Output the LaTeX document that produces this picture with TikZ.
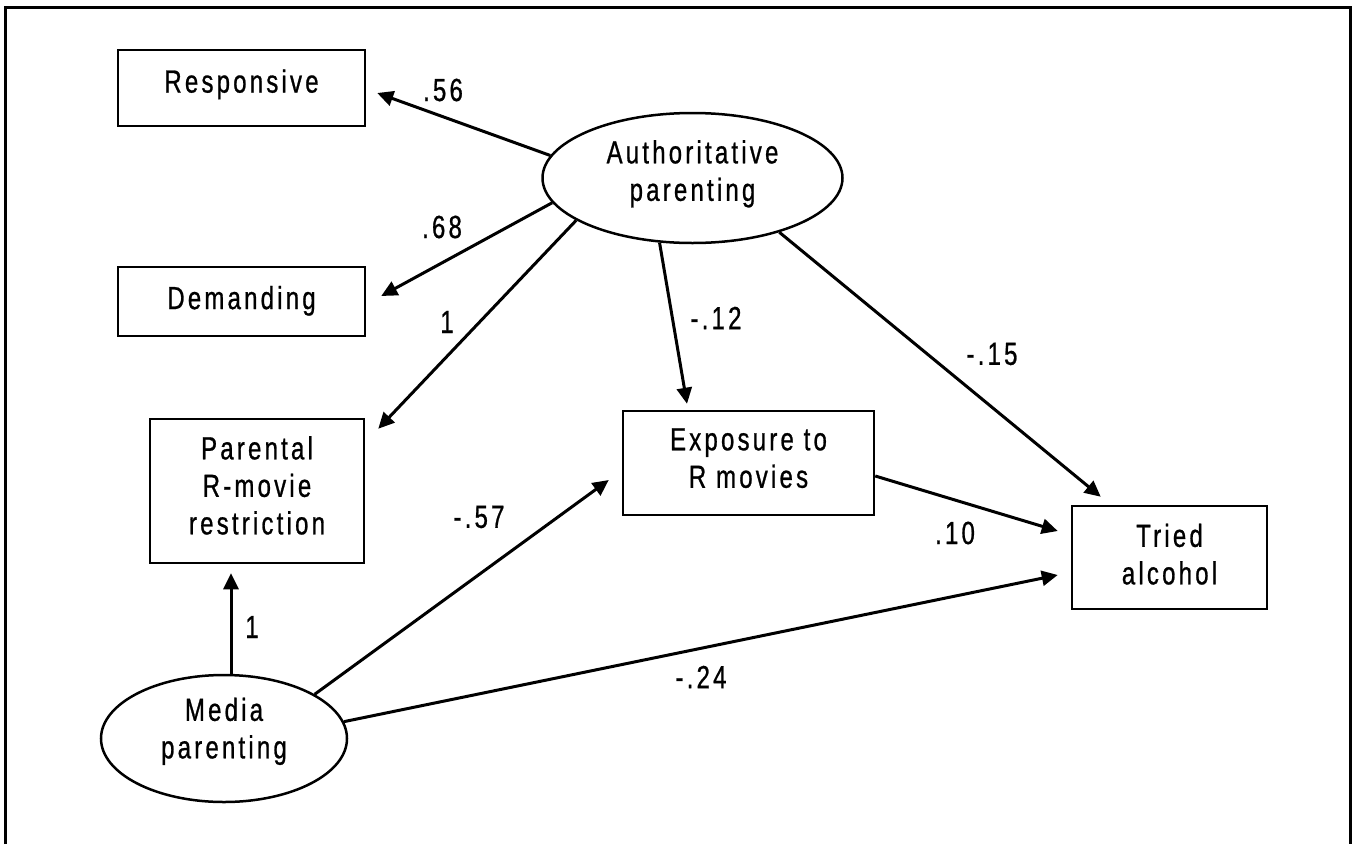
\documentclass[tikz,border=0pt]{standalone}
\usepackage{fontspec}
\setmainfont{Liberation Sans}[FakeStretch=0.75,LetterSpace=10,FakeBold=0.8]
\usetikzlibrary{arrows.meta,shapes.geometric,calc}
\newcommand{\lowstrut}[1]{\rule[-#1pt]{0pt}{#1pt}}
\begin{document}
\begin{tikzpicture}[x=1pt,y=-1pt,
  txt/.style={font=\fontsize{32}{37.5}\selectfont},
  box/.style={txt, draw, line width=2.5pt, rectangle, inner sep=0pt, align=center},
  oval/.style={txt, draw, line width=2.5pt, ellipse, inner sep=0pt, align=center},
  conn/.style={line width=3pt, -{Triangle[length=16pt,width=15pt]}},
  lbl/.style={txt, inner sep=0pt}]
\useasboundingbox (0,0) rectangle (1353,844);
\draw[line width=3pt] (5,844) -- (5,7) -- (1350,7) -- (1350,844);

\node[box, minimum width=247pt, minimum height=76pt] (resp) at (241.5,88) {Responsive\lowstrut{14}};
\node[box, minimum width=247pt, minimum height=69pt] (dem) at (241.5,301.5) {Demanding\lowstrut{8}};
\node[box, minimum width=214pt, minimum height=144pt] (par) at (257,491) {Parental\\R-movie\\restriction\lowstrut{11.5}};
\node[box, minimum width=251pt, minimum height=104pt] (expo) at (748.5,463) {Exposure to\\R movies\lowstrut{10}};
\node[box, minimum width=195pt, minimum height=103pt] (tried) at (1169.5,557.5) {Tried\\alcohol\lowstrut{7}};
\node[oval, minimum width=300pt, minimum height=130pt] (auth) at (692.5,178) {Authoritative\\parenting\lowstrut{15}};
\node[oval, minimum width=246pt, minimum height=127pt] (media) at (224,738.5) {Media\\parenting\lowstrut{21}};

\node[lbl] (l56) at (443,90) {.56};
\node[lbl] (l68) at (442,227) {.68};
\node[lbl] (l1a) at (447,322) {1};
\node[lbl] (l12) at (716,318) {-.12};
\node[lbl] (l15) at (992,354) {-.15};
\node[lbl] (l10) at (955,533) {.10};
\node[lbl] (l1b) at (252,627) {1};
\node[lbl] (l57) at (479,517) {-.57};
\node[lbl] (l24) at (701,677) {-.24};

\draw[conn] (auth.171) -- ($(resp.east)+(11,5)$);
\draw[conn] (auth.190) -- ($(dem.east)+(15,-5.5)$);
\draw[conn] (auth.200) -- ($(par.north east)+(13,11)$);
\draw[conn] (auth.243) -- ($(expo.north)+(-61.5,-6)$);
\draw[conn] (auth.-32) -- ($(tried.north west)+(30,-8)$);
\draw[conn] ($(expo.east)+(0,13)$) -- ($(tried.west)+(-13,-26.5)$);
\draw[conn] ($(media.north)+(7,0)$) -- ($(par.south)+(-26,9)$);
\draw[conn] (media.26) -- ($(expo.west)+(-13,17)$);
\draw[conn] (media.8) -- ($(tried.west)+(-13,17.5)$);
\end{tikzpicture}
\end{document}
